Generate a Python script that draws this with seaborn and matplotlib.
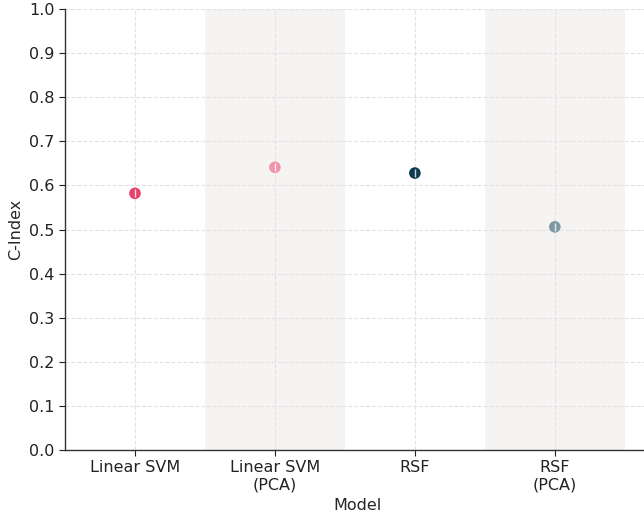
import matplotlib
matplotlib.use("Agg")
import matplotlib.pyplot as plt
import seaborn as sns
import pandas as pd
import numpy as np

models = ["Linear SVM", "Linear SVM\n(PCA)", "RSF", "RSF\n(PCA)"]
c_index = [0.582, 0.641, 0.628, 0.506]
c_index_err = [0.009, 0.009, 0.009, 0.009]
colors = ["#E8416B", "#F293AA", "#0D3A4E", "#7E98A3"]
y_ticks = [0.0, 0.1, 0.2, 0.3, 0.4, 0.5, 0.6, 0.7, 0.8, 0.9, 1.0]

df = pd.DataFrame({"Model": models, "C-Index": c_index})

sns.set_style("white")
plt.rcParams["font.family"] = ["DejaVu Sans"]

fig = plt.figure(figsize=(6.44, 5.14), dpi=100)
ax = fig.add_axes([65 / 644, 64 / 514, 585 / 644, 441 / 514])

# alternating category bands
for i in range(len(models)):
    if i % 2 == 1:
        ax.axvspan(i - 0.5, i + 0.5, color="#F5F4F2", zorder=0, lw=0)

sns.scatterplot(data=df, x="Model", y="C-Index", hue="Model", palette=colors,
                s=70, edgecolor="none", legend=False, ax=ax, zorder=3)
ax.errorbar(np.arange(len(models)), c_index, yerr=c_index_err, fmt="none",
            ecolor="white", elinewidth=1.0, alpha=0.8, zorder=4)

ax.set_xlim(-0.5, 3.68)
ax.set_ylim(0, 1.0)
ax.set_yticks(y_ticks)
ax.set_yticklabels([f"{t:.1f}" for t in y_ticks])
ax.grid(True, linestyle="--", color="#E3E3E3", linewidth=0.8, zorder=1)
ax.set_axisbelow(True)

for side in ["top", "right"]:
    ax.spines[side].set_visible(False)
for side in ["left", "bottom"]:
    ax.spines[side].set_color("#333333")
    ax.spines[side].set_linewidth(1.0)

ax.tick_params(axis="both", labelsize=11.5, colors="#222222", length=4,
               left=True, bottom=True)
ax.set_xlabel("Model", fontsize=11.5, labelpad=4)
ax.set_ylabel("C-Index", fontsize=11.5)

fig.savefig("out.png", dpi=100)
